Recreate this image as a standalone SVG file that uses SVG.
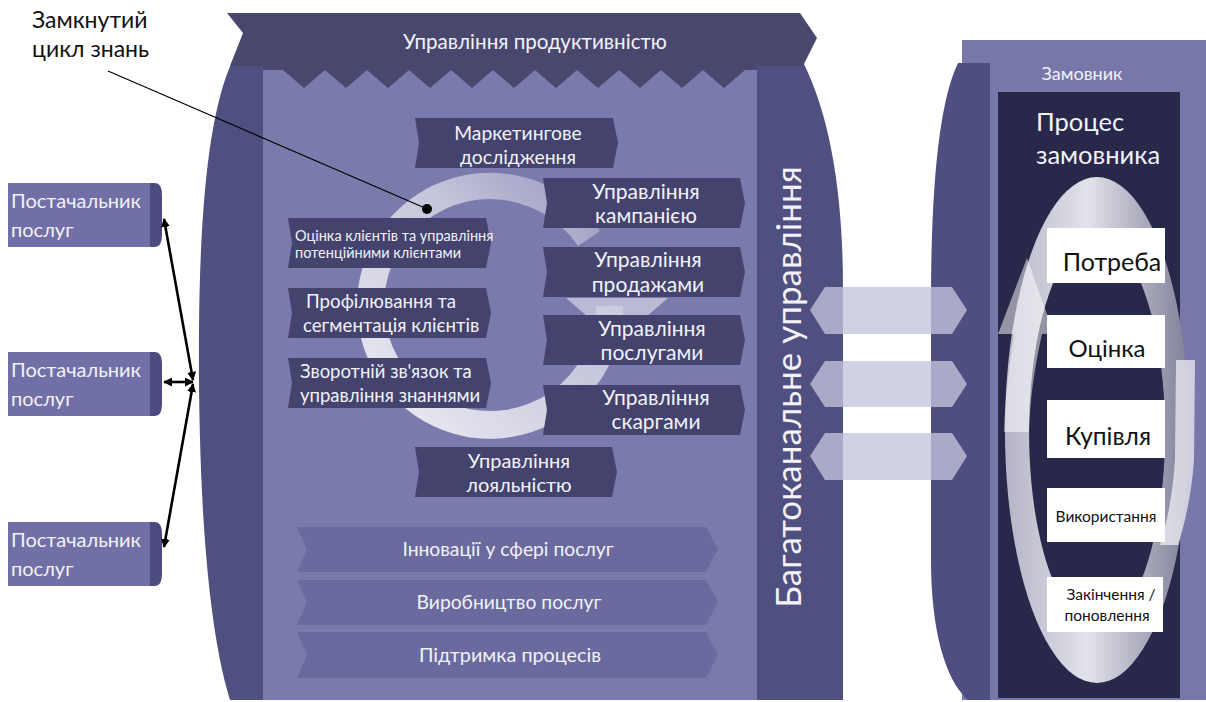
<svg xmlns="http://www.w3.org/2000/svg" width="1206" height="702" viewBox="0 0 1206 702">
<defs>
<style>
text{font-family:Lato,"Open Sans","Noto Sans",sans-serif}
.wt{fill:#f2f2f8}
.bk{fill:#111}
.step{fill:#43436e}
.bar{fill:#6a6a9e}
.sup{fill:#7070a6}
.cap{fill:#4c4c80}
.conn{stroke:#000;stroke-width:2.6;fill:none;marker-start:url(#ah);marker-end:url(#ah)}
.hex{fill:#c4c4dc;opacity:0.78}
.lbl{fill:#fff}
</style>
<marker id="ah" viewBox="0 0 10 10" refX="9" refY="5" markerWidth="9" markerHeight="9" markerUnits="userSpaceOnUse" orient="auto-start-reverse">
<path d="M0,0 L10,5 L0,10 Z" fill="#000"/>
</marker>
<linearGradient id="ringg" x1="0" y1="1" x2="1" y2="0">
<stop offset="0" stop-color="#ffffff" stop-opacity="0.9"/>
<stop offset="0.6" stop-color="#e6e6f0" stop-opacity="0.7"/>
<stop offset="1" stop-color="#c8c8dc" stop-opacity="0.35"/>
</linearGradient>
<linearGradient id="ellg" x1="0" y1="0" x2="1" y2="0">
<stop offset="0" stop-color="#b4b4c6"/>
<stop offset="0.45" stop-color="#e2e2ea"/>
<stop offset="1" stop-color="#7e7e98"/>
</linearGradient>
</defs>

<g id="main-body">
<path d="M232,62 C210,110 200,200 199,330 C198,470 205,620 230,700 L843,700 L843,290 C843,200 832,120 803,62 Z" fill="#4f4f80"/>
<rect x="263" y="66" width="494" height="634" fill="#7a7aac"/>
<path d="M263,66 L757,66 L757,70 L745,70 L724,88 L703,70 L682,88 L661,70 L640,88 L619,70 L598,88 L577,70 L556,88 L535,70 L514,88 L493,70 L472,88 L451,70 L430,88 L409,70 L388,88 L367,70 L346,88 L325,70 L304,88 L283,70 L263,70 Z" fill="#48486f"/>
</g>

<g id="banner">
<path d="M227,13 L800,13 L817,38 L803,66 L230,66 L243,33 Z" fill="#48486f"/>
<text x="535" y="49" class="wt" font-size="20.6" text-anchor="middle">Управління продуктивністю</text>
</g>

<g id="multichannel">
<text class="wt" font-size="35" text-anchor="middle" transform="translate(801,387) rotate(-90)">Багатоканальне управління</text>
</g>

<g id="cycle-ring">
<path d="M623,306 A133,133 0 1 1 600,231 L578,246 A106,106 0 1 0 596,306 Z" fill="url(#ringg)"/>
<path d="M566,298 L668,298 L617,342 Z" fill="#d6d6e6" opacity="0.7"/>
</g>

<g id="step-marketing">
<path class="step" d="M415,118 L613,118 L618,143 L613,168 L415,168 L419,143 Z"/>
<text class="wt" font-size="19.3" text-anchor="middle"><tspan x="518" y="140">Маркетингове</tspan><tspan x="518" y="164">дослідження</tspan></text>
</g>
<g id="step-campaign">
<path class="step" d="M543,178 L740,178 L745,203 L740,228 L543,228 L547,203 Z"/>
<text class="wt" font-size="21" text-anchor="middle"><tspan x="646" y="199">Управління</tspan><tspan x="646" y="223">кампанією</tspan></text>
</g>
<g id="step-leads">
<path class="step" d="M288,218 L486,218 L491,243 L486,268 L288,268 L292,243 Z"/>
<text class="wt" font-size="14.5"><tspan x="295" y="241">Оцінка клієнтів та управління</tspan><tspan x="295" y="258">потенційними клієнтами</tspan></text>
</g>
<g id="step-sales">
<path class="step" d="M543,247 L740,247 L745,272 L740,297 L543,297 L547,272 Z"/>
<text class="wt" font-size="21" text-anchor="middle"><tspan x="648" y="267">Управління</tspan><tspan x="648" y="292">продажами</tspan></text>
</g>
<g id="step-profiling">
<path class="step" d="M288,288 L486,288 L491,313 L486,338 L288,338 L292,313 Z"/>
<text class="wt" font-size="18.7"><tspan x="306" y="308">Профілювання та</tspan><tspan x="303" y="332">сегментація клієнтів</tspan></text>
</g>
<g id="step-service">
<path class="step" d="M543,315 L740,315 L745,340 L740,365 L543,365 L547,340 Z"/>
<text class="wt" font-size="21" text-anchor="middle"><tspan x="652" y="336">Управління</tspan><tspan x="652" y="360">послугами</tspan></text>
</g>
<g id="step-feedback">
<path class="step" d="M288,358 L486,358 L491,383 L486,408 L288,408 L292,383 Z"/>
<text class="wt" font-size="18.5"><tspan x="300" y="378">Зворотній зв'язок та</tspan><tspan x="300" y="402">управління знаннями</tspan></text>
</g>
<g id="step-complaints">
<path class="step" d="M543,385 L740,385 L745,410 L740,435 L543,435 L547,410 Z"/>
<text class="wt" font-size="21" text-anchor="middle"><tspan x="656" y="405">Управління</tspan><tspan x="656" y="429">скаргами</tspan></text>
</g>
<g id="step-loyalty">
<path class="step" d="M415,447 L612,447 L617,472 L612,497 L415,497 L419,472 Z"/>
<text class="wt" font-size="20" text-anchor="middle"><tspan x="519" y="468">Управління</tspan><tspan x="519" y="492">лояльністю</tspan></text>
</g>

<g id="bar-innovation">
<path class="bar" d="M297,527 L706,527 L718,549 L706,572 L297,572 L307,549 Z"/>
<text class="wt" font-size="19.3" x="508" y="556" text-anchor="middle">Інновації у сфері послуг</text>
</g>
<g id="bar-production">
<path class="bar" d="M297,580 L706,580 L718,602 L706,625 L297,625 L307,602 Z"/>
<text class="wt" font-size="19.3" x="509" y="609" text-anchor="middle">Виробництво послуг</text>
</g>
<g id="bar-support">
<path class="bar" d="M297,632 L706,632 L718,655 L706,678 L297,678 L307,655 Z"/>
<text class="wt" font-size="19.8" x="510" y="662" text-anchor="middle">Підтримка процесів</text>
</g>

<g id="customer">
<rect x="962" y="40" width="244" height="660" fill="#7777a9"/>
<path d="M958,63 L990,63 L990,700 L968,700 C945,680 931,630 931,560 L931,300 C931,180 940,100 958,63 Z" fill="#4e4e80"/>
<text class="wt" font-size="18" x="1082" y="80" text-anchor="middle">Замовник</text>
</g>

<g id="customer-process">
<rect x="998" y="92" width="182" height="606" fill="#28284a"/>
<text class="wt" font-size="25.5"><tspan x="1036" y="131">Процес</tspan><tspan x="1036" y="164">замовника</tspan></text>
<path d="M1097,177 A92,253 0 1 1 1096.9,177 Z M1097,237 A68,195 0 1 0 1097.1,237 Z" fill="url(#ellg)" fill-rule="evenodd"/>
<path d="M1027,258 L1054,334 L1042,334 C1034,370 1030,400 1029,432 L1004,432 C1005,400 1009,365 1014,334 L998,334 Z" fill="#fff" opacity="0.5"/>
<path d="M1176,360 L1195,360 L1194,460 C1192,490 1186,520 1178,545 L1160,545 C1168,520 1173,490 1175,460 Z" fill="#fff" opacity="0.65"/>
</g>

<g id="stage-need">
<rect class="lbl" x="1047" y="228" width="118" height="55"/>
<text class="bk" font-size="25" x="1112" y="271" text-anchor="middle">Потреба</text>
</g>
<g id="stage-eval">
<rect class="lbl" x="1047" y="315" width="118" height="53"/>
<text class="bk" font-size="24" x="1107" y="357" text-anchor="middle">Оцінка</text>
</g>
<g id="stage-buy">
<rect class="lbl" x="1047" y="400" width="118" height="58"/>
<text class="bk" font-size="24.5" x="1108" y="445" text-anchor="middle">Купівля</text>
</g>
<g id="stage-use">
<rect class="lbl" x="1047" y="488" width="118" height="54"/>
<text class="bk" font-size="15.5" x="1106" y="522" text-anchor="middle">Використання</text>
</g>
<g id="stage-end">
<rect class="lbl" x="1047" y="577" width="116" height="55"/>
<text class="bk" font-size="15.5" text-anchor="middle"><tspan x="1111" y="600">Закінчення /</tspan><tspan x="1107" y="621">поновлення</tspan></text>
</g>

<g id="channels">
<path class="hex" d="M810,310 L825,287 L952,287 L967,310 L952,334 L825,334 Z"/>
<path class="hex" d="M810,384 L825,361 L952,361 L967,384 L952,407 L825,407 Z"/>
<path class="hex" d="M810,456 L825,433 L952,433 L967,456 L952,480 L825,480 Z"/>
</g>

<g id="supplier-1">
<rect class="sup" x="8" y="183" width="146" height="64"/>
<path class="cap" d="M150,183 L155,183 Q162,183 162,195 L162,235 Q162,247 155,247 L150,247 Z"/>
<text class="wt" font-size="20"><tspan x="11" y="208">Постачальник</tspan><tspan x="11" y="237">послуг</tspan></text>
</g>
<g id="supplier-2">
<rect class="sup" x="8" y="352" width="146" height="64"/>
<path class="cap" d="M150,352 L155,352 Q162,352 162,364 L162,404 Q162,416 155,416 L150,416 Z"/>
<text class="wt" font-size="20"><tspan x="11" y="377">Постачальник</tspan><tspan x="11" y="406">послуг</tspan></text>
</g>
<g id="supplier-3">
<rect class="sup" x="8" y="522" width="146" height="64"/>
<path class="cap" d="M150,522 L155,522 Q162,522 162,534 L162,574 Q162,586 155,586 L150,586 Z"/>
<text class="wt" font-size="20"><tspan x="11" y="547">Постачальник</tspan><tspan x="11" y="576">послуг</tspan></text>
</g>

<g id="connectors">
<line class="conn" x1="193" y1="380" x2="164" y2="219"/>
<line class="conn" x1="193" y1="382" x2="164" y2="382"/>
<line class="conn" x1="193" y1="384" x2="164" y2="547"/>
<line x1="108" y1="71" x2="425" y2="208" stroke="#000" stroke-width="1.2"/>
<circle cx="427" cy="209" r="5" fill="#000"/>
</g>

<g id="callout">
<text class="bk" font-size="23"><tspan x="32" y="28">Замкнутий</tspan><tspan x="32" y="57">цикл знань</tspan></text>
</g>
</svg>
